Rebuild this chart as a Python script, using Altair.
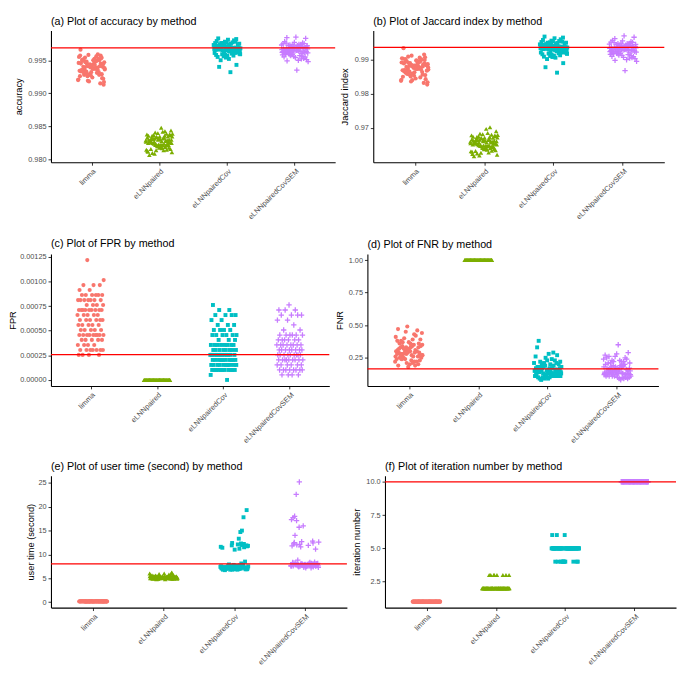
import altair as alt
import pandas as pd

METHODS = ["limma", "eLNNpaired", "eLNNpairedCov", "eLNNpairedCovSEM"]
COLORS = ["#F8766D", "#7CAE00", "#00BFC4", "#C77CFF"]
SHAPES = ["circle", "triangle-up", "square", "M-1,0L1,0M0,-1L0,1"]
SIZES = [18, 22, 16, 30]

# (a) accuracy
acc_limma = [0.9941, 0.9936, 0.9952, 0.9928, 0.9945, 0.9939, 0.9957, 0.9931, 0.9948, 0.9922, 0.9943, 0.9935, 0.9950, 0.9918, 0.9946, 0.9938, 0.9954, 0.9929, 0.9942, 0.9933, 0.9959, 0.9926, 0.9947, 0.9937, 0.9951, 0.9915, 0.9944, 0.9934, 0.9956, 0.9930, 0.9940, 0.9924, 0.9949, 0.9932, 0.9958, 0.9920, 0.9943, 0.9936, 0.9953, 0.9927, 0.9966, 0.9939, 0.9945, 0.9913, 0.9950, 0.9934, 0.9941, 0.9929, 0.9955, 0.9937, 0.9947, 0.9923, 0.9942, 0.9935, 0.9952, 0.9919, 0.9938, 0.9946, 0.9931, 0.9957, 0.9940, 0.9926, 0.9949, 0.9933, 0.9944, 0.9937, 0.9951, 0.9928, 0.9943, 0.9921, 0.9948, 0.9939, 0.9954, 0.9932, 0.9945, 0.9936, 0.9942, 0.9917, 0.9950, 0.9940]
acc_elnn = [0.9829, 0.9822, 0.9835, 0.9818, 0.9831, 0.9826, 0.9840, 0.9813, 0.9833, 0.9824, 0.9837, 0.9820, 0.9828, 0.9815, 0.9834, 0.9827, 0.9842, 0.9810, 0.9830, 0.9823, 0.9836, 0.9819, 0.9832, 0.9825, 0.9848, 0.9816, 0.9829, 0.9821, 0.9838, 0.9814, 0.9831, 0.9826, 0.9835, 0.9807, 0.9828, 0.9824, 0.9839, 0.9817, 0.9833, 0.9822, 0.9830, 0.9812, 0.9836, 0.9827, 0.9844, 0.9819, 0.9829, 0.9823, 0.9834, 0.9815, 0.9832, 0.9825, 0.9838, 0.9818, 0.9830, 0.9821, 0.9841, 0.9811, 0.9828, 0.9826, 0.9835, 0.9820, 0.9833, 0.9824, 0.9837, 0.9816, 0.9831, 0.9827, 0.9839, 0.9814, 0.9829, 0.9822, 0.9836, 0.9818, 0.9832, 0.9825, 0.9843, 0.9809, 0.9830, 0.9823]
acc_cov = [0.9970, 0.9965, 0.9975, 0.9960, 0.9972, 0.9967, 0.9978, 0.9958, 0.9969, 0.9964, 0.9976, 0.9962, 0.9971, 0.9966, 0.9980, 0.9956, 0.9968, 0.9963, 0.9974, 0.9943, 0.9970, 0.9966, 0.9977, 0.9959, 0.9969, 0.9964, 0.9983, 0.9961, 0.9972, 0.9967, 0.9975, 0.9950, 0.9968, 0.9965, 0.9979, 0.9957, 0.9971, 0.9963, 0.9974, 0.9940, 0.9969, 0.9966, 0.9976, 0.9960, 0.9970, 0.9964, 0.9981, 0.9955, 0.9968, 0.9962, 0.9973, 0.9932, 0.9971, 0.9967, 0.9977, 0.9958, 0.9969, 0.9965, 0.9975, 0.9952, 0.9970, 0.9963, 0.9978, 0.9961, 0.9968, 0.9966, 0.9974, 0.9957, 0.9972, 0.9964, 0.9976, 0.9959, 0.9969, 0.9967, 0.9982, 0.9954, 0.9971, 0.9965, 0.9973, 0.9962]
acc_sem = [0.9968, 0.9963, 0.9973, 0.9958, 0.9970, 0.9965, 0.9976, 0.9956, 0.9967, 0.9962, 0.9974, 0.9960, 0.9969, 0.9964, 0.9978, 0.9952, 0.9966, 0.9961, 0.9972, 0.9949, 0.9968, 0.9964, 0.9975, 0.9957, 0.9967, 0.9963, 0.9985, 0.9959, 0.9970, 0.9965, 0.9973, 0.9950, 0.9966, 0.9962, 0.9977, 0.9955, 0.9969, 0.9961, 0.9972, 0.9935, 0.9967, 0.9964, 0.9974, 0.9958, 0.9968, 0.9963, 0.9983, 0.9954, 0.9966, 0.9960, 0.9971, 0.9948, 0.9969, 0.9965, 0.9975, 0.9956, 0.9967, 0.9963, 0.9973, 0.9951, 0.9968, 0.9961, 0.9976, 0.9959, 0.9966, 0.9964, 0.9972, 0.9955, 0.9970, 0.9962, 0.9974, 0.9957, 0.9967, 0.9965, 0.9984, 0.9953, 0.9969, 0.9963, 0.9971, 0.9960]

# (b) Jaccard index
jac_limma = [0.9882, 0.9871, 0.9895, 0.9858, 0.9889, 0.9876, 0.9903, 0.9848, 0.9885, 0.9868, 0.9898, 0.9862, 0.9880, 0.9840, 0.9892, 0.9874, 0.9909, 0.9855, 0.9883, 0.9866, 0.9901, 0.9851, 0.9887, 0.9873, 0.9896, 0.9832, 0.9879, 0.9869, 0.9906, 0.9857, 0.9884, 0.9845, 0.9893, 0.9864, 0.9912, 0.9838, 0.9881, 0.9872, 0.9899, 0.9853, 0.9934, 0.9877, 0.9890, 0.9827, 0.9897, 0.9867, 0.9886, 0.9859, 0.9904, 0.9875, 0.9891, 0.9843, 0.9882, 0.9870, 0.9900, 0.9836, 0.9878, 0.9888, 0.9861, 0.9915, 0.9880, 0.9850, 0.9894, 0.9865, 0.9886, 0.9873, 0.9902, 0.9856, 0.9884, 0.9841, 0.9892, 0.9876, 0.9907, 0.9863, 0.9889, 0.9871, 0.9883, 0.9834, 0.9897, 0.9879]
jac_elnn = [0.9660, 0.9647, 0.9672, 0.9638, 0.9664, 0.9653, 0.9681, 0.9630, 0.9667, 0.9649, 0.9676, 0.9642, 0.9658, 0.9633, 0.9670, 0.9655, 0.9685, 0.9625, 0.9662, 0.9648, 0.9674, 0.9640, 0.9665, 0.9651, 0.9697, 0.9632, 0.9659, 0.9645, 0.9678, 0.9628, 0.9663, 0.9654, 0.9671, 0.9617, 0.9657, 0.9650, 0.9679, 0.9636, 0.9668, 0.9644, 0.9661, 0.9623, 0.9673, 0.9656, 0.9690, 0.9639, 0.9660, 0.9646, 0.9669, 0.9631, 0.9664, 0.9652, 0.9677, 0.9637, 0.9662, 0.9643, 0.9683, 0.9621, 0.9658, 0.9654, 0.9671, 0.9641, 0.9666, 0.9649, 0.9675, 0.9634, 0.9663, 0.9655, 0.9680, 0.9627, 0.9659, 0.9647, 0.9673, 0.9638, 0.9665, 0.9651, 0.9702, 0.9619, 0.9661, 0.9648]
jac_cov = [0.9938, 0.9929, 0.9947, 0.9920, 0.9942, 0.9933, 0.9953, 0.9915, 0.9940, 0.9927, 0.9950, 0.9922, 0.9939, 0.9931, 0.9960, 0.9911, 0.9936, 0.9925, 0.9946, 0.9890, 0.9941, 0.9932, 0.9955, 0.9918, 0.9937, 0.9928, 0.9968, 0.9921, 0.9944, 0.9934, 0.9949, 0.9902, 0.9936, 0.9930, 0.9958, 0.9913, 0.9943, 0.9926, 0.9948, 0.9878, 0.9938, 0.9933, 0.9952, 0.9919, 0.9940, 0.9927, 0.9963, 0.9909, 0.9935, 0.9923, 0.9945, 0.9862, 0.9942, 0.9934, 0.9954, 0.9916, 0.9939, 0.9930, 0.9950, 0.9906, 0.9941, 0.9925, 0.9956, 0.9921, 0.9936, 0.9932, 0.9947, 0.9912, 0.9944, 0.9928, 0.9951, 0.9917, 0.9938, 0.9934, 0.9965, 0.9908, 0.9943, 0.9929, 0.9946, 0.9923]
jac_sem = [0.9935, 0.9926, 0.9944, 0.9917, 0.9939, 0.9930, 0.9950, 0.9912, 0.9937, 0.9924, 0.9947, 0.9919, 0.9936, 0.9928, 0.9957, 0.9905, 0.9933, 0.9922, 0.9943, 0.9898, 0.9938, 0.9929, 0.9952, 0.9915, 0.9934, 0.9925, 0.9970, 0.9918, 0.9941, 0.9931, 0.9946, 0.9900, 0.9933, 0.9927, 0.9955, 0.9910, 0.9940, 0.9923, 0.9945, 0.9868, 0.9935, 0.9930, 0.9949, 0.9916, 0.9937, 0.9924, 0.9966, 0.9907, 0.9932, 0.9920, 0.9942, 0.9895, 0.9939, 0.9931, 0.9951, 0.9913, 0.9936, 0.9927, 0.9947, 0.9903, 0.9938, 0.9922, 0.9953, 0.9918, 0.9933, 0.9929, 0.9944, 0.9909, 0.9941, 0.9925, 0.9948, 0.9914, 0.9935, 0.9931, 0.9962, 0.9906, 0.9940, 0.9926, 0.9943, 0.9920]

# (c) FPR
fpr_limma = [0.001217,
             0.001014,
             0.000963, 0.000963, 0.000963,
             0.000913, 0.000913,
             0.000862, 0.000862, 0.000862, 0.000862, 0.000862, 0.000862,
             0.000811, 0.000811, 0.000811, 0.000811, 0.000811, 0.000811, 0.000811,
             0.000761, 0.000761, 0.000761, 0.000761,
             0.000710, 0.000710, 0.000710, 0.000710, 0.000710, 0.000710, 0.000710, 0.000710, 0.000710,
             0.000659, 0.000659, 0.000659, 0.000659, 0.000659,
             0.000608, 0.000608, 0.000608, 0.000608, 0.000608, 0.000608,
             0.000558, 0.000558, 0.000558, 0.000558, 0.000558,
             0.000507, 0.000507, 0.000507, 0.000507, 0.000507,
             0.000456, 0.000456, 0.000456, 0.000456, 0.000456, 0.000456, 0.000456, 0.000456, 0.000456,
             0.000406, 0.000406, 0.000406, 0.000406, 0.000406,
             0.000355, 0.000355, 0.000355, 0.000355,
             0.000304, 0.000304, 0.000304, 0.000304, 0.000304, 0.000304, 0.000304,
             0.000254, 0.000254, 0.000254, 0.000254]
fpr_elnn = [0, 0, 0, 0, 0, 0, 0, 0, 0, 0, 0, 0, 0, 0, 0, 0, 0, 0, 0, 0,
            0, 0, 0, 0, 0, 0, 0, 0, 0, 0, 0, 0, 0, 0, 0, 0, 0, 0, 0, 0,
            0, 0, 0, 0, 0, 0, 0, 0, 0, 0, 0, 0, 0, 0, 0, 0, 0, 0, 0, 0]
fpr_cov = [0.000761,
           0.000710, 0.000710,
           0.000659, 0.000659, 0.000659, 0.000659,
           0.000608, 0.000608,
           0.000558, 0.000558, 0.000558,
           0.000507, 0.000507, 0.000507, 0.000507,
           0.000456, 0.000456, 0.000456, 0.000456, 0.000456, 0.000456,
           0.000406, 0.000406, 0.000406,
           0.000355, 0.000355, 0.000355, 0.000355, 0.000355, 0.000355, 0.000355, 0.000355,
           0.000304, 0.000304, 0.000304, 0.000304, 0.000304, 0.000304, 0.000304, 0.000304,
           0.000254, 0.000254, 0.000254, 0.000254, 0.000254, 0.000254, 0.000254, 0.000254, 0.000254, 0.000254, 0.000254, 0.000254,
           0.000203, 0.000203, 0.000203, 0.000203, 0.000203, 0.000203, 0.000203, 0.000203, 0.000203, 0.000203,
           0.000152, 0.000152, 0.000152, 0.000152, 0.000152, 0.000152, 0.000152, 0.000152, 0.000152, 0.000152,
           0.000101, 0.000101, 0.000101, 0.000101, 0.000101, 0.000101, 0.000101, 0.000101, 0.000101, 0.000101, 0.000101,
           0.0000507,
           0]
fpr_sem = [0.000761,
           0.000710, 0.000710, 0.000710,
           0.000659, 0.000659, 0.000659, 0.000659,
           0.000608, 0.000608,
           0.000558,
           0.000507, 0.000507,
           0.000456, 0.000456, 0.000456, 0.000456, 0.000456, 0.000456,
           0.000406, 0.000406, 0.000406, 0.000406, 0.000406, 0.000406,
           0.000355, 0.000355, 0.000355, 0.000355, 0.000355, 0.000355, 0.000355, 0.000355,
           0.000304, 0.000304, 0.000304, 0.000304, 0.000304, 0.000304, 0.000304, 0.000304,
           0.000254, 0.000254, 0.000254, 0.000254, 0.000254, 0.000254, 0.000254, 0.000254, 0.000254,
           0.000203, 0.000203, 0.000203, 0.000203, 0.000203, 0.000203, 0.000203, 0.000203, 0.000203,
           0.000152, 0.000152, 0.000152, 0.000152, 0.000152, 0.000152,
           0.000101, 0.000101, 0.000101, 0.000101, 0.000101, 0.000101, 0.000101, 0.000101,
           0.0000507, 0.0000507, 0.0000507, 0.0000507]

# (d) FNR
fnr_limma = [0.31, 0.27, 0.35, 0.24, 0.33, 0.29, 0.38, 0.22, 0.32, 0.26, 0.36, 0.25, 0.30, 0.28, 0.41, 0.21, 0.34, 0.27, 0.37, 0.19, 0.31, 0.29, 0.44, 0.23, 0.33, 0.26, 0.49, 0.24, 0.35, 0.28, 0.39, 0.20, 0.32, 0.30, 0.45, 0.22, 0.34, 0.27, 0.36, 0.18, 0.31, 0.29, 0.40, 0.25, 0.33, 0.28, 0.46, 0.21, 0.30, 0.26, 0.37, 0.23, 0.32, 0.29, 0.42, 0.24, 0.35, 0.27, 0.38, 0.20, 0.31, 0.28, 0.43, 0.25, 0.34, 0.30, 0.36, 0.22, 0.33, 0.26, 0.39, 0.24, 0.29, 0.31, 0.47, 0.19, 0.32, 0.27, 0.35, 0.28]
fnr_elnn = [1, 1, 1, 1, 1, 1, 1, 1, 1, 1, 1, 1, 1, 1, 1, 1, 1, 1, 1, 1,
            1, 1, 1, 1, 1, 1, 1, 1, 1, 1, 1, 1, 1, 1, 1, 1, 1, 1, 1, 1,
            1, 1, 1, 1, 1, 1, 1, 1, 1, 1, 1, 1, 1, 1, 1, 1, 1, 1, 1, 1]
fnr_cov = [0.16, 0.13, 0.19, 0.11, 0.17, 0.14, 0.21, 0.10, 0.15, 0.12, 0.20, 0.13, 0.16, 0.14, 0.23, 0.09, 0.18, 0.12, 0.22, 0.11, 0.15, 0.13, 0.29, 0.10, 0.17, 0.14, 0.38, 0.12, 0.19, 0.15, 0.24, 0.08, 0.16, 0.13, 0.33, 0.11, 0.18, 0.14, 0.20, 0.09, 0.15, 0.12, 0.26, 0.13, 0.17, 0.14, 0.28, 0.10, 0.16, 0.12, 0.21, 0.11, 0.18, 0.15, 0.23, 0.12, 0.19, 0.13, 0.22, 0.10, 0.16, 0.14, 0.25, 0.11, 0.17, 0.15, 0.20, 0.09, 0.18, 0.12, 0.21, 0.13, 0.15, 0.16, 0.27, 0.10, 0.17, 0.13, 0.19, 0.14]
fnr_sem = [0.15, 0.12, 0.18, 0.11, 0.17, 0.13, 0.21, 0.10, 0.16, 0.12, 0.22, 0.14, 0.15, 0.13, 0.25, 0.09, 0.19, 0.12, 0.23, 0.11, 0.16, 0.14, 0.27, 0.10, 0.18, 0.13, 0.35, 0.12, 0.20, 0.15, 0.24, 0.08, 0.17, 0.13, 0.28, 0.11, 0.19, 0.14, 0.21, 0.09, 0.16, 0.12, 0.26, 0.13, 0.18, 0.15, 0.29, 0.10, 0.17, 0.12, 0.22, 0.11, 0.19, 0.14, 0.24, 0.12, 0.20, 0.13, 0.23, 0.10, 0.16, 0.15, 0.25, 0.11, 0.18, 0.14, 0.21, 0.09, 0.17, 0.13, 0.22, 0.12, 0.15, 0.16, 0.26, 0.10, 0.18, 0.14, 0.20, 0.13]

# (e) user time (second)
time_limma = [0.14, 0.12, 0.16, 0.13, 0.15, 0.11, 0.17, 0.14, 0.12, 0.15, 0.13, 0.18, 0.14, 0.12, 0.16, 0.13, 0.15, 0.11, 0.14, 0.17,
              0.13, 0.15, 0.12, 0.16, 0.14, 0.13, 0.19, 0.12, 0.15, 0.14, 0.16, 0.11, 0.13, 0.15, 0.14, 0.12, 0.17, 0.13, 0.16, 0.14,
              0.12, 0.15, 0.13, 0.14, 0.18, 0.12, 0.15, 0.13, 0.16, 0.14, 0.11, 0.15, 0.13, 0.17, 0.14, 0.12, 0.16, 0.13, 0.15, 0.14]
time_elnn = [5.1, 5.3, 4.9, 5.2, 5.6, 5.0, 5.4, 5.1, 5.8, 4.9, 5.2, 5.3, 5.0, 6.1, 5.1, 5.4, 5.2, 4.8, 5.5, 5.1, 5.3, 5.0, 5.9, 5.2, 5.1, 5.4, 4.9, 5.2, 5.7, 5.0, 5.3, 5.1, 6.0, 5.2, 5.0, 5.4, 5.1, 5.3, 4.9, 5.6, 5.2, 5.0, 5.1, 5.5, 5.3, 4.8, 5.2, 6.2, 5.1, 5.0, 5.3, 5.4, 5.1, 5.2, 4.9, 5.7, 5.0, 5.2, 5.3, 5.1, 5.8, 5.0, 5.2, 5.4, 4.9, 5.1, 5.3, 5.5, 5.0, 5.2, 6.0, 5.1, 5.3, 4.9, 5.2, 5.6, 5.0, 5.1, 5.4, 5.2]
time_cov = [7.2, 7.0, 7.5, 6.9, 7.3, 7.1, 7.8, 6.8, 7.4, 7.0, 7.6, 7.2, 6.9, 7.3, 12.0, 7.1, 7.5, 6.8, 7.2, 11.5, 7.4, 7.0, 7.7, 7.1, 19.3, 7.3, 6.9, 7.2, 11.9, 7.5, 7.0, 7.4, 8.5, 7.1, 7.3, 12.3, 6.8, 7.2, 7.6, 7.0, 17.8, 7.4, 7.1, 11.2, 7.3, 6.9, 7.5, 7.2, 15.0, 7.0, 7.4, 12.1, 7.1, 7.3, 7.8, 6.8, 14.7, 7.2, 11.7, 7.5, 7.0, 7.3, 12.4, 7.1, 13.3, 7.4, 6.9, 11.0, 7.2, 8.1, 7.6, 11.8, 7.0, 7.3, 12.2, 7.1, 11.4, 7.5, 7.9, 11.9, 7.2, 6.7, 12.0, 7.4, 11.6, 7.0]
time_sem = [7.8, 7.6, 8.0, 7.5, 7.9, 7.7, 8.2, 7.4, 7.9, 7.6, 8.1, 7.8, 7.5, 7.9, 12.5, 7.7, 8.0, 7.3, 7.8, 12.0, 7.9, 7.6, 8.3, 7.7, 25.2, 7.9, 7.5, 7.8, 12.8, 8.0, 7.6, 7.9, 8.8, 7.7, 7.8, 12.2, 7.2, 7.8, 8.1, 7.6, 22.6, 7.9, 7.7, 11.8, 7.8, 7.4, 8.0, 7.8, 18.0, 7.6, 7.9, 12.6, 7.7, 7.8, 8.4, 7.3, 17.7, 7.8, 12.1, 8.0, 7.6, 7.9, 12.4, 7.7, 17.3, 7.9, 7.5, 11.1, 7.8, 8.2, 8.1, 11.6, 7.6, 7.9, 17.1, 7.7, 16.0, 8.0, 8.3, 15.7, 7.8, 7.2, 14.0, 7.9, 12.7, 7.6, 11.9, 7.8]

# (f) iteration number
iter_limma = [1, 1, 1, 1, 1, 1, 1, 1, 1, 1, 1, 1, 1, 1, 1, 1, 1, 1, 1, 1,
              1, 1, 1, 1, 1, 1, 1, 1, 1, 1, 1, 1, 1, 1, 1, 1, 1, 1, 1, 1,
              1, 1, 1, 1, 1, 1, 1, 1, 1, 1, 1, 1, 1, 1, 1, 1, 1, 1, 1, 1]
iter_elnn = [2, 2, 3, 2, 2, 2, 2, 2, 2, 2, 2, 3, 2, 2, 2, 2, 2, 2, 3, 2,
             2, 2, 2, 2, 2, 2, 2, 3, 2, 2, 2, 2, 2, 2, 3, 2, 2, 2, 2, 2,
             2, 2, 2, 3, 2, 2, 2, 2, 2, 2, 2, 3, 2, 2, 2, 2, 2, 2, 2, 2,
             2, 3, 2, 2, 2, 2, 2, 2, 2, 2]
iter_cov = [5, 5, 4, 5, 5, 6, 5, 4, 5, 5, 5, 5, 5, 4, 5, 5, 5, 5, 4, 5,
            4, 5, 5, 5, 5, 5, 5, 4, 5, 6, 5, 5, 5, 4, 5, 5, 5, 5, 5, 5,
            5, 4, 5, 5, 5, 4, 5, 5, 5, 5, 5, 5, 5, 5, 6, 5, 5, 5, 4, 5,
            5, 5, 4, 5, 5, 5, 5, 5, 5, 5, 4, 5]
iter_sem = [10, 10, 10, 10, 10, 10, 10, 10, 10, 10, 10, 10, 10, 10, 10, 10, 10, 10, 10, 10,
            10, 10, 10, 10, 10, 10, 10, 10, 10, 10, 10, 10, 10, 10, 10, 10, 10, 10, 10, 10,
            10, 10, 10, 10, 10, 10, 10, 10, 10, 10, 10, 10, 10, 10, 10, 10, 10, 10, 10, 10]

# reference lines
REF = {"a": 0.99687, "b": 0.99365, "c": 0.000256, "d": 0.164, "e": 8.0, "f": 10.0}

FONT = "Liberation Sans"
LABEL_EXPR = "[" + ",".join("'%s'" % m for m in METHODS) + "][datum.value - 1]"


def panel(title, ytitle, groups, domain, ticks, fmt, ref, width, height, extent):
    rows = [{"m": k + 1, "i": i, "v": v}
            for k, vals in enumerate(groups) for i, v in enumerate(vals)]
    df = pd.DataFrame(rows)
    xenc = alt.X("jx:Q",
                 scale=alt.Scale(domain=[0.4, 4.6], nice=False, zero=False),
                 axis=alt.Axis(values=[1, 2, 3, 4], labelExpr=LABEL_EXPR,
                               labelAngle=-45, labelAlign="right",
                               labelBaseline="top", labelFlush=False,
                               title=None))
    yenc = alt.Y("v:Q",
                 scale=alt.Scale(domain=domain, nice=False, zero=False),
                 axis=alt.Axis(values=ticks, format=fmt, title=ytitle,
                               minExtent=extent, maxExtent=extent))
    layers = []
    for k in range(4):
        mk = dict(shape=SHAPES[k], size=SIZES[k], color=COLORS[k],
                  opacity=1, filled=(k < 3))
        if k == 3:
            mk["strokeWidth"] = 1.3
        layers.append(
            alt.Chart(df)
            .transform_filter("datum.m == %d" % (k + 1))
            .transform_calculate(
                jx="datum.m + ((datum.i * 0.6180339887 + datum.m * 0.37) % 1 - 0.5) * 0.4")
            .mark_point(**mk)
            .encode(x=xenc, y=yenc)
        )
    rule = (alt.Chart(pd.DataFrame({"v": [ref]}))
            .mark_rule(color="#FF0000", strokeWidth=1.3)
            .encode(y=yenc))
    return alt.layer(*layers, rule).properties(
        width=width, height=height,
        title=alt.TitleParams(title, anchor="start", frame="group"))


H = 135
pa = panel("(a) Plot of accuracy  by method", "accuracy",
           [acc_limma, acc_elnn, acc_cov, acc_sem], [0.9796, 0.9995],
           [0.980, 0.985, 0.990, 0.995], ".3f", REF["a"], 291, H, 25)
pb = panel("(b) Plot of Jaccard index  by method", "Jaccard index",
           [jac_limma, jac_elnn, jac_cov, jac_sem], [0.9599, 0.9986],
           [0.97, 0.98, 0.99], ".2f", REF["b"], 298, H, 21)
pc = panel("(c) Plot of FPR  by method", "FPR",
           [fpr_limma, fpr_elnn, fpr_cov, fpr_sem], [-0.000061, 0.001278],
           [0.0, 0.00025, 0.0005, 0.00075, 0.001, 0.00125], ".5f", REF["c"], 285, H, 31)
pd_ = panel("(d) Plot of FNR  by method", "FNR",
            [fnr_limma, fnr_elnn, fnr_cov, fnr_sem], [0.034, 1.046],
            [0.25, 0.5, 0.75, 1.0], ".2f", REF["d"], 298, H, 21)
pe = panel("(e) Plot of user time (second)  by method", "user time (second)",
           [time_limma, time_elnn, time_cov, time_sem], [-1.16, 26.5],
           [0, 5, 10, 15, 20, 25], "d", REF["e"], 303, H, 13)
pf = panel("(f) Plot of iteration number  by method", "iteration number",
           [iter_limma, iter_elnn, iter_cov, iter_sem], [0.55, 10.45],
           [2.5, 5.0, 7.5, 10.0], ".1f", REF["f"], 298, H, 21)

chart = alt.vconcat(
    alt.hconcat(pa, pb, spacing=4),
    alt.hconcat(pc, pd_, spacing=4),
    alt.hconcat(pe, pf, spacing=4),
    spacing=17,
).properties(padding=0).configure_view(stroke=None).configure_axis(
    domainColor="black", domainWidth=1.1, tickColor="#333333", tickSize=3,
    tickWidth=1, labelColor="#4D4D4D", labelFontSize=7.5, labelFont=FONT,
    titleFont=FONT, titleFontSize=9.5, titleFontWeight="normal",
    titleColor="black", grid=False, labelPadding=2, titlePadding=3,
).configure_title(font=FONT, fontSize=11, fontWeight="normal",
                  color="black", offset=4)

chart.save("out.html", embed_options={"renderer": "svg", "actions": False})
